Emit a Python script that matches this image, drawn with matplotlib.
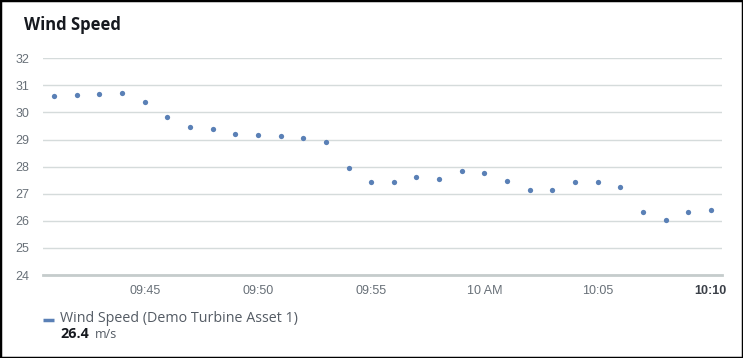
import pandas as pd
import matplotlib
matplotlib.use("Agg")
import matplotlib.pyplot as plt
from matplotlib.patches import Rectangle
from matplotlib.lines import Line2D

# wind speed samples, one per minute, 09:41 -> 10:10
times = pd.date_range("2024-01-01 09:41", periods=30, freq="min")
speed = [30.61, 30.65, 30.69, 30.71, 30.38, 29.82, 29.45, 29.38, 29.21, 29.15,
         29.13, 29.07, 28.91, 27.94, 27.45, 27.45, 27.61, 27.54, 27.84, 27.76,
         27.46, 27.13, 27.13, 27.42, 27.42, 27.24, 26.32, 26.02, 26.32, 26.39]

tick_times = pd.to_datetime(["2024-01-01 09:45", "2024-01-01 09:50", "2024-01-01 09:55",
                             "2024-01-01 10:00", "2024-01-01 10:05", "2024-01-01 10:10"])
tick_labels = ["09:45", "09:50", "09:55", "10 AM", "10:05", "10:10"]
y_ticks = [24, 25, 26, 27, 28, 29, 30, 31, 32]

series_name = "Wind Speed (Demo Turbine Asset 1)"
latest = "26.4"
unit = "m/s"

blue = "#5a80b6"
W, H = 743, 358
fig = plt.figure(figsize=(W / 100, H / 100), dpi=100)

# axes placement in pixels
left, right, bottom, top = 43, 721.5, 275, 58.3
ax = fig.add_axes([left / W, 1 - bottom / H, (right - left) / W, (bottom - top) / H])

ax.plot(times, speed, linestyle="none", marker="o", markersize=3.8,
        color=blue, markeredgewidth=0)

span = pd.Timedelta(minutes=1)
ax.set_xlim(times[0] - span * 0.49, times[-1] + span * 0.47)
ax.set_ylim(24, 32)

ax.set_yticks(y_ticks)
ax.set_yticklabels([str(v) for v in y_ticks])
ax.set_xticks(tick_times)
ax.set_xticklabels(tick_labels)

ax.grid(axis="y", color="#d5dbdb", linewidth=1)
ax.set_axisbelow(True)
for s in ["top", "right", "left"]:
    ax.spines[s].set_visible(False)
ax.spines["bottom"].set_color("#c5cccc")
ax.spines["bottom"].set_linewidth(2)

ax.tick_params(axis="both", length=0, labelcolor="#687078", labelsize=9)
ax.tick_params(axis="y", pad=10)
ax.tick_params(axis="x", pad=7)
for lab in ax.get_yticklabels() + ax.get_xticklabels():
    lab.set_fontfamily("Liberation Sans")
last = ax.get_xticklabels()[-1]
last.set_fontweight("bold")
last.set_color("#3b4048")

# title
fig.text(24 / W, 1 - 25 / H, "Wind Speed", fontsize=12, fontweight="bold",
         color="#16191f", family="Open Sans", va="center", ha="left")

# legend block at the bottom
fig.add_artist(Line2D([43 / W, 54 / W], [1 - 319.5 / H, 1 - 319.5 / H],
                      color=blue, linewidth=2.5, solid_capstyle="butt"))
fig.text(60 / W, 1 - 318 / H, series_name, fontsize=10.3, color="#545b64",
         family="Open Sans", va="center", ha="left")
t = fig.text(60 / W, 1 - 334 / H, latest, fontsize=10.3, fontweight="bold",
             color="#16191f", family="Open Sans", va="center", ha="left")
fig.canvas.draw()
bb = t.get_window_extent()
fig.text((bb.x1 + 6) / W, 1 - 334.5 / H, unit, fontsize=9, color="#545b64",
         family="Open Sans", va="center", ha="left")

# outer border
fig.add_artist(Rectangle((0, 0), 1, 1, transform=fig.transFigure, fill=False,
                         edgecolor="black", linewidth=2.5))

fig.savefig("out.png", dpi=100)
